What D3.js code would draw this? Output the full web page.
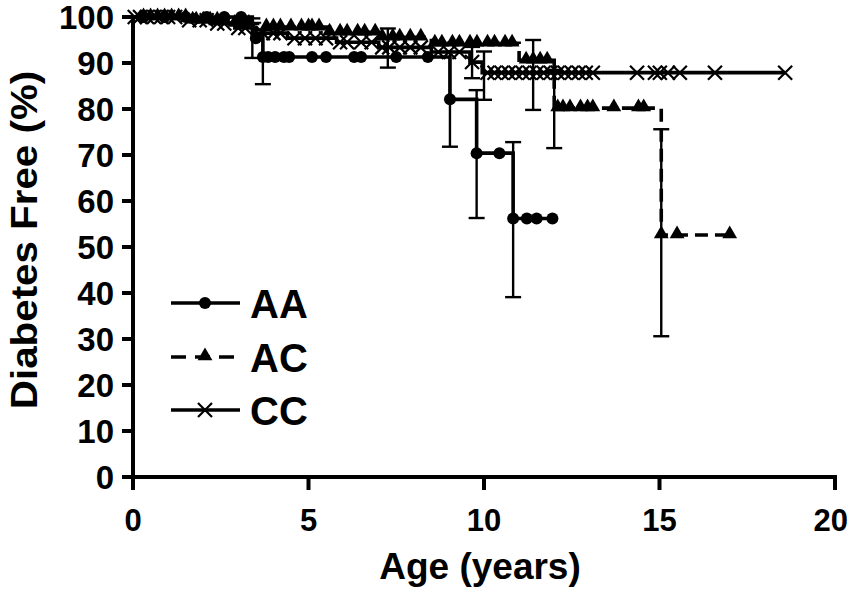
<!DOCTYPE html>
<html><head><meta charset="utf-8">
<script src="https://cdn.jsdelivr.net/npm/d3@7"></script>
<style>
html,body{margin:0;padding:0;background:#fff;}
svg{display:block;}
text{font-family:"Liberation Sans",Arial,Helvetica,sans-serif;font-weight:bold;fill:#000;}
</style></head>
<body>
<svg id="chart" width="850" height="589"></svg>
<script>
// ---------- data ----------
const xTicks = [0, 5, 10, 15, 20];
const yTicks = [0, 10, 20, 30, 40, 50, 60, 70, 80, 90, 100];
const groups = ["AA", "AC", "CC"];

// AA (circles, solid)
const aaStepT = [0, 3.4, 3.7, 9.03, 9.79, 10.83];
const aaStepV = [100, 95.4, 91.3, 82.1, 70.4, 56.2];
const aaEnd = 11.95;
const aaCensorT = [0.3, 0.9, 1.5, 2.1, 2.6, 3.08, 3.5, 3.7, 3.85, 4.05, 4.3, 4.45, 5.1, 5.5, 6.3, 6.5, 7.5, 8.4, 9.03, 9.79, 10.44, 10.83, 11.22, 11.5, 11.95];
const aaBarT = [3.4, 3.7, 9.03, 9.79, 10.83];
const aaBarLo = [91.1, 85.4, 71.8, 56.3, 39.1];
const aaBarHi = [99.7, 97.2, 92.4, 84.1, 72.8];

// AC (triangles, dashed)
const acStepT = [0, 1.6, 2.7, 3.6, 5.6, 7.0, 8.5, 11.0, 12.0, 15.05];
const acStepV = [100, 99.3, 98.6, 97.8, 96.7, 95.6, 94.3, 90.6, 80.2, 52.6];
const acEnd = 17.0;
const acCensorT = [0.3, 0.5, 0.7, 0.9, 1.1, 1.3, 1.5, 1.7, 1.8, 2.0, 2.2, 2.4, 2.6, 2.9, 3.1, 3.3, 3.8, 4.0, 4.2, 4.5, 4.8, 5.0, 5.1, 5.3, 5.6, 5.9, 6.1, 6.4, 6.6, 6.9, 7.1, 7.4, 7.6, 7.9, 8.2, 8.6, 8.8, 9.1, 9.3, 9.6, 9.8, 10.1, 10.3, 10.6, 10.8, 11.2, 11.4, 11.6, 11.8, 12.1, 12.25, 12.45, 12.75, 12.95, 13.1, 13.7, 14.4, 14.55, 15.05, 15.5, 17.0];
const acBarT = [11.4, 12.0, 15.05];
const acBarLo = [79.8, 71.5, 30.6];
const acBarHi = [95.0, 88.5, 75.6];

// CC (crosses, solid)
const ccStepT = [0, 1.4, 2.2, 2.9, 3.5, 4.4, 5.8, 7.0, 8.5, 9.6, 9.95];
const ccStepV = [100, 99.3, 98.6, 97.6, 96.5, 95.4, 94.5, 93.4, 92.4, 90.2, 87.9];
const ccEnd = 18.58;
const ccCensorT = [0.05, 0.2, 0.4, 0.6, 0.8, 1.0, 1.2, 1.6, 1.9, 2.1, 2.4, 2.6, 3.0, 3.2, 3.7, 4.0, 4.2, 4.6, 4.9, 5.2, 5.5, 5.9, 6.1, 6.5, 6.8, 7.1, 7.3, 7.6, 7.9, 8.2, 8.7, 9.0, 9.3, 9.66, 10.1, 10.3, 10.5, 10.7, 10.9, 11.1, 11.3, 11.5, 11.7, 11.9, 12.1, 12.3, 12.5, 12.7, 12.9, 13.1, 14.36, 14.87, 15.01, 15.24, 15.58, 16.58, 18.58];
const ccBarT = [7.26, 9.66, 10.0];
const ccBarLo = [89.0, 86.7, 82.0];
const ccBarHi = [97.5, 93.5, 92.5];

// ---------- chart ----------
const W = 850;
const svg = d3.select("#chart");
const x = d3.scaleLinear().domain([0, 20]).range([133, 835]);
const y = d3.scaleLinear().domain([0, 100]).range([477, 17]);

const series = [
  {name: "AA", t: aaStepT, v: aaStepV, end: aaEnd, cens: aaCensorT, bt: aaBarT, blo: aaBarLo, bhi: aaBarHi, sym: "circle", dash: null},
  {name: "AC", t: acStepT, v: acStepV, end: acEnd, cens: acCensorT, bt: acBarT, blo: acBarLo, bhi: acBarHi, sym: "triangle", dash: "13,7"},
  {name: "CC", t: ccStepT, v: ccStepV, end: ccEnd, cens: ccCensorT, bt: ccBarT, blo: ccBarLo, bhi: ccBarHi, sym: "cross", dash: null}
];

function valueAt(s, t) {
  let val = s.v[0];
  for (let i = 0; i < s.t.length; i++) if (s.t[i] <= t + 1e-9) val = s.v[i];
  return val;
}

function drawSymbol(g, type, cx, cy) {
  if (type === "circle") {
    g.append("circle").attr("cx", cx).attr("cy", cy).attr("r", 6).attr("fill", "#000");
  } else if (type === "triangle") {
    g.append("path").attr("transform", `translate(${cx},${cy - 1})`)
      .attr("d", d3.symbol().type(d3.symbolTriangle).size(95)()).attr("fill", "#000");
  } else {
    const r = 7;
    g.append("path").attr("d", `M${cx - r},${cy - r}L${cx + r},${cy + r}M${cx - r},${cy + r}L${cx + r},${cy - r}`)
      .attr("stroke", "#000").attr("stroke-width", 2.2).attr("fill", "none");
  }
}

const stepLine = d3.line().x(d => x(d[0])).y(d => y(d[1])).curve(d3.curveStepAfter);

// error bars
series.forEach(s => {
  const g = svg.append("g");
  s.bt.forEach((t, i) => {
    const cx = x(t);
    g.append("line").attr("x1", cx).attr("x2", cx).attr("y1", y(s.blo[i])).attr("y2", y(s.bhi[i]))
      .attr("stroke", "#000").attr("stroke-width", 2.4);
    [s.blo[i], s.bhi[i]].forEach(b => {
      g.append("line").attr("x1", cx - 8).attr("x2", cx + 8).attr("y1", y(b)).attr("y2", y(b))
        .attr("stroke", "#000").attr("stroke-width", 2.4);
    });
  });
});

// step curves
series.forEach(s => {
  const pts = s.t.map((t, i) => [t, s.v[i]]);
  pts.push([s.end, s.v[s.v.length - 1]]);
  svg.append("path").attr("d", stepLine(pts)).attr("fill", "none").attr("stroke", "#000")
    .attr("stroke-width", 3.6).attr("stroke-dasharray", s.dash);
});

// censor markers
series.forEach(s => {
  const g = svg.append("g");
  s.cens.forEach(t => drawSymbol(g, s.sym, x(t), y(valueAt(s, t))));
});

// axes
const axG = svg.append("g");
axG.append("line").attr("x1", 133).attr("x2", 133).attr("y1", y(100) - 2).attr("y2", 490)
  .attr("stroke", "#000").attr("stroke-width", 4);
axG.append("line").attr("x1", 131).attr("x2", x(20) + 2).attr("y1", y(0)).attr("y2", y(0))
  .attr("stroke", "#000").attr("stroke-width", 4);
yTicks.forEach(v => {
  axG.append("line").attr("x1", 122).attr("x2", 133).attr("y1", y(v)).attr("y2", y(v))
    .attr("stroke", "#000").attr("stroke-width", 4);
  axG.append("text").attr("x", 114).attr("y", y(v) + 11.5).attr("text-anchor", "end")
    .attr("font-size", 33).text(v);
});
xTicks.forEach(v => {
  axG.append("line").attr("x1", x(v)).attr("x2", x(v)).attr("y1", y(0)).attr("y2", 490)
    .attr("stroke", "#000").attr("stroke-width", 4);
  const t = axG.append("text").attr("x", x(v)).attr("y", 531).attr("text-anchor", "middle")
    .attr("font-size", 31).text(v);
  const bb = t.node().getBBox();
  if (bb.x + bb.width > W - 2) t.attr("x", x(v) - (bb.x + bb.width - (W - 2)));
});
svg.append("text").attr("x", 480).attr("y", 579).attr("text-anchor", "middle")
  .attr("font-size", 37).text("Age (years)");
svg.append("text").attr("transform", "translate(37,240) rotate(-90) scale(1.09,1)").attr("text-anchor", "middle")
  .attr("font-size", 37).text("Diabetes Free (%)");

// legend
const legY = [303, 357, 410];
series.forEach((s, i) => {
  const g = svg.append("g");
  g.append("line").attr("x1", 171).attr("x2", 240).attr("y1", legY[i]).attr("y2", legY[i])
    .attr("stroke", "#000").attr("stroke-width", 3.6).attr("stroke-dasharray", s.dash ? "15,9" : null);
  drawSymbol(g, s.sym, 205, legY[i]);
  g.append("text").attr("x", 250).attr("y", legY[i] + 15).attr("font-size", 40).text(groups[i]);
});
</script>
</body></html>
